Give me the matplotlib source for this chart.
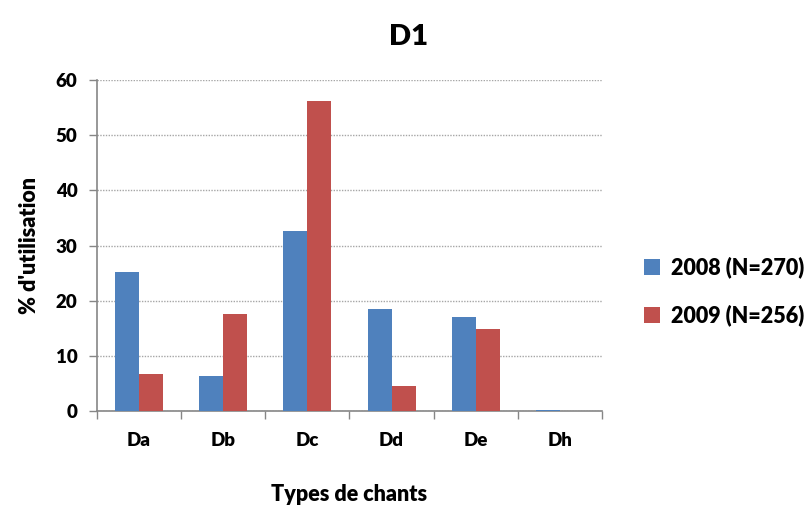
import numpy as np
import matplotlib.pyplot as plt
from matplotlib.patches import Patch

categories = ["Da", "Db", "Dc", "Dd", "De", "Dh"]
vals_2008 = [25.2, 6.3, 32.6, 18.5, 17.0, 0.2]
vals_2009 = [6.7, 17.6, 56.2, 4.6, 14.9, 0.0]
series_labels = ["2008 (N=270)", "2009 (N=256)"]

BLUE = "#4F81BD"
RED = "#C0504D"
GRID = "#A6A6A6"
AXIS = "#868686"

plt.rcParams.update({
    "font.family": ["Lato", "DejaVu Sans"],
    "font.weight": "heavy",
})

fig = plt.figure(figsize=(8.06, 5.07), dpi=100)
ax = fig.add_axes([0.1203, 0.1893, 0.6266, 0.6529])

x = np.arange(len(categories))
w = 0.285
ax.bar(x - w / 2, vals_2008, width=w, color=BLUE, linewidth=0, zorder=3)
ax.bar(x + w / 2, vals_2009, width=w, color=RED, linewidth=0, zorder=3)

ax.set_xlim(-0.5, len(categories) - 0.5)
ax.set_ylim(0, 60)
ax.set_yticks(range(0, 61, 10))
ax.set_xticks(x)
ax.set_xticklabels(categories)
ax.set_xticks(np.arange(-0.5, len(categories)), minor=True)
ax.tick_params(axis="x", which="major", length=0, pad=15, labelsize=13.5)
ax.tick_params(axis="x", which="minor", length=6, color=AXIS, width=1)
ax.tick_params(axis="y", length=6, color=AXIS, width=1, pad=8, labelsize=13.5)

ax.grid(axis="y", linestyle=(0, (1, 1)), color=GRID, linewidth=1, zorder=0)
for s in ["top", "right"]:
    ax.spines[s].set_visible(False)
for s in ["left", "bottom"]:
    ax.spines[s].set_color(AXIS)
    ax.spines[s].set_linewidth(1.2)

ax.set_ylabel("% d'utilisation", fontsize=15.5, fontweight="heavy", labelpad=11)
ax.set_xlabel("Types de chants", fontsize=15.5, fontweight="heavy", labelpad=25)
fig.text(0.507, 0.928, "D1", ha="center", va="center", fontsize=21, fontweight="heavy")

handles = [Patch(facecolor=BLUE), Patch(facecolor=RED)]
fig.legend(handles, series_labels, loc="center left", bbox_to_anchor=(0.775, 0.425),
           frameon=False, fontsize=15.5, handlelength=0.75, handleheight=0.75,
           handletextpad=0.5, labelspacing=1.2)

fig.savefig("out.png", dpi=100)
